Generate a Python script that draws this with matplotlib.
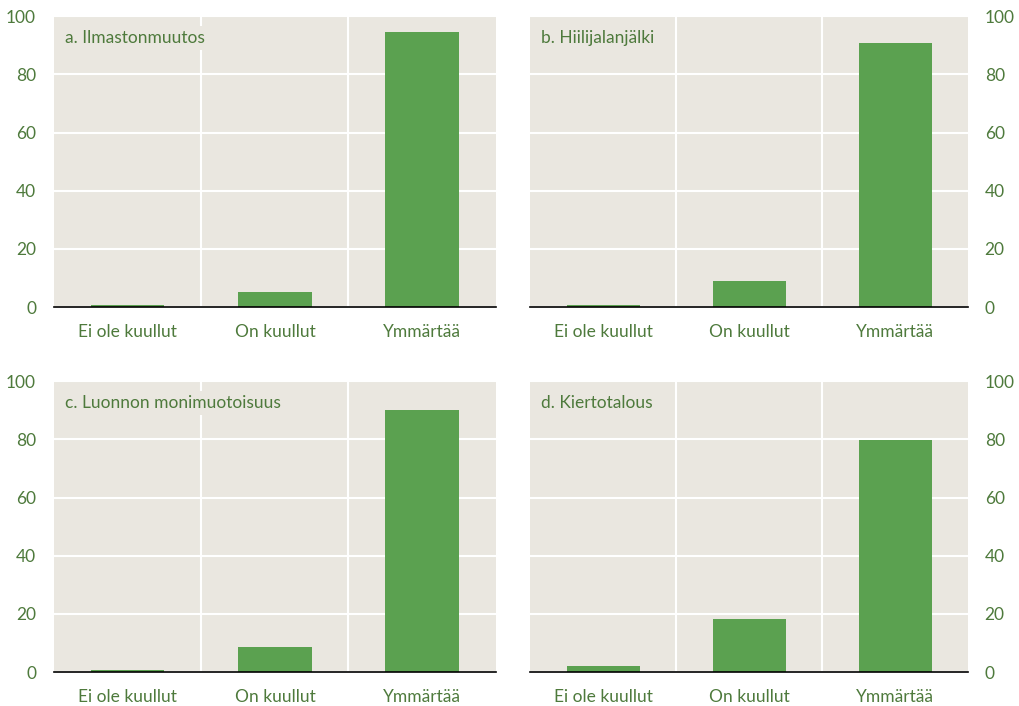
import matplotlib
matplotlib.use("Agg")
import matplotlib.pyplot as plt
import numpy as np

plt.rcParams['font.family'] = ['Lato', 'DejaVu Sans']

# vastausvaihtoehdot ja osuudet (%) käsitteittäin
kategoriat = ['Ei ole kuullut', 'On kuullut', 'Ymmärtää']
otsikot = ['a. Ilmastonmuutos', 'b. Hiilijalanjälki',
           'c. Luonnon monimuotoisuus', 'd. Kiertotalous']
ilmastonmuutos = [0.7, 5.2, 94.5]
hiilijalanjalki = [0.7, 8.9, 90.7]
monimuotoisuus = [0.7, 8.6, 90.0]
kiertotalous = [2.1, 18.2, 79.7]
arvot = [ilmastonmuutos, hiilijalanjalki, monimuotoisuus, kiertotalous]

tausta = '#EAE7E0'
vihrea = '#5BA150'
teksti = '#4E7A3C'

fig = plt.figure(figsize=(10.2, 7.06), dpi=100)
paikat = [
    [0.053, 0.565, 0.433, 0.412],
    [0.520, 0.565, 0.429, 0.412],
    [0.053, 0.048, 0.433, 0.412],
    [0.520, 0.048, 0.429, 0.412],
]

x = np.arange(len(kategoriat))
for i, (paikka, otsikko, y) in enumerate(zip(paikat, otsikot, arvot)):
    ax = fig.add_axes(paikka)
    ax.set_facecolor(tausta)
    ax.bar(x, y, width=0.5, color=vihrea, zorder=3)
    ax.set_xlim(-0.5, 2.5)
    ax.set_ylim(0, 100)
    ax.set_yticks(range(0, 101, 20))
    ax.set_xticks(x)
    ax.set_xticklabels(kategoriat)
    ax.set_xticks([0.5, 1.5], minor=True)
    ax.grid(axis='y', color='white', linewidth=1.5, zorder=1)
    ax.grid(axis='x', which='minor', color='white', linewidth=1.5, zorder=1)
    ax.tick_params(which='both', length=0, labelsize=12.5, colors=teksti)
    ax.tick_params(axis='x', pad=12)
    if i % 2 == 1:
        ax.yaxis.tick_right()
        ax.tick_params(axis='y', pad=12)
    else:
        ax.tick_params(axis='y', pad=13)
    for s in ['top', 'left', 'right']:
        ax.spines[s].set_visible(False)
    ax.spines['bottom'].set_color('black')
    ax.spines['bottom'].set_linewidth(1.2)
    ax.spines['bottom'].set_zorder(4)
    ax.text(0.025, 0.925, otsikko, transform=ax.transAxes, fontsize=12.5,
            color=teksti, va='center', ha='left', zorder=5,
            bbox=dict(facecolor=tausta, edgecolor='none', pad=3))

fig.savefig('out.png', dpi=100, facecolor='white')
